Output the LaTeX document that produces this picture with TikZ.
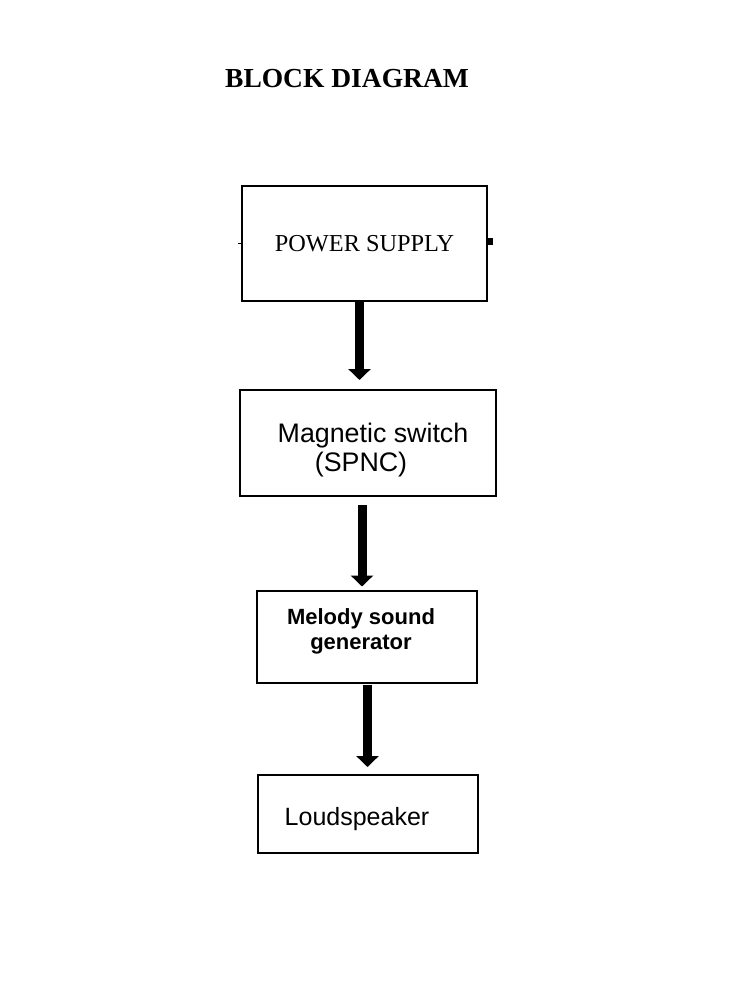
\documentclass[tikz,border=0pt]{standalone}
\usepackage{fontspec}
\setmainfont{Liberation Serif}
\newfontfamily\arialfont{Liberation Sans}
\usetikzlibrary{arrows.meta}
\tikzset{
    blk/.style={draw, line width=2pt, inner sep=0pt},
    flow/.style={line width=9pt, -{Triangle[width=22pt,length=11pt]}},
}
\begin{document}
\begin{tikzpicture}[x=1pt, y=-1pt]
            \useasboundingbox (0,0) rectangle (746,984);
            \node[font=\fontsize{27.5}{30}\selectfont\bfseries] (title) at (347,79) {BLOCK DIAGRAM};

            % boxes
            \node[blk, minimum width=245pt, minimum height=115pt] (ps) at (364.5,243.5) {};
            \node[blk, minimum width=256pt, minimum height=106pt] (ms) at (368,443) {};
            \node[blk, minimum width=220pt, minimum height=92pt] (mg) at (367,636.5) {};
            \node[blk, minimum width=220pt, minimum height=78pt] (ls) at (367.5,814) {};

            % texts
            \node[font=\fontsize{24.3}{28}\selectfont] (pstxt) at ([yshift=-0.5pt]ps.center) {POWER SUPPLY};
            \node[align=center, font=\arialfont\fontsize{26.8}{29}\selectfont] (mstxt) at ([yshift=-7pt]ms.center) {\hspace*{10pt}Magnetic switch\\(SPNC)\hspace*{14pt}};
            \node[align=center, font=\arialfont\bfseries\fontsize{22}{25}\selectfont] (mgtxt) at ([xshift=-6pt,yshift=5pt]mg.center) {Melody sound\\generator};
            \node[font=\arialfont\fontsize{25}{28}\selectfont] (lstxt) at ([xshift=-10.5pt,yshift=-5pt]ls.center) {Loudspeaker};

            % arrows
            \draw[flow, shorten >=9pt] ([xshift=-5pt]ps.south) -- ([xshift=-8.5pt]ms.north);
            \draw[flow, shorten <=8pt, shorten >=3pt] ([xshift=-6pt]ms.south) -- ([xshift=-5pt]mg.north);
            \draw[flow, shorten <=1pt, shorten >=7pt] ([xshift=0.5pt]mg.south) -- (ls.north);

            % stubs on the power supply
            \draw[line width=6pt] ([yshift=2pt]ps.east) -- ++(5,0);
            \draw[line width=1.5pt] (ps.west) -- ++(-3,0);
        \end{tikzpicture}
\end{document}
